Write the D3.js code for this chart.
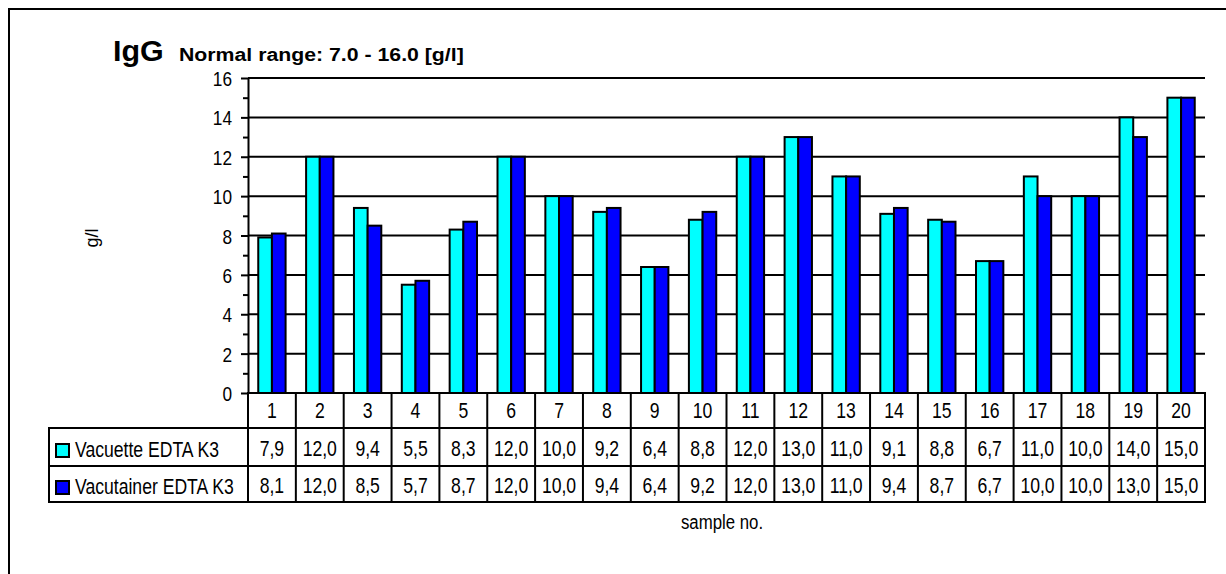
<!DOCTYPE html>
<html>
<head>
<meta charset="utf-8">
<script src="https://cdn.jsdelivr.net/npm/d3@7/dist/d3.min.js"></script>
<style>
  html, body { margin: 0; padding: 0; background: #fff; }
  svg { display: block; }
  text { font-family: 'Liberation Sans', Arial, sans-serif; fill: #000; }
</style>
</head>
<body>
<svg id="chart" width="1226" height="574"></svg>
<script>
// ---- data ----
const categories = ["1","2","3","4","5","6","7","8","9","10","11","12","13","14","15","16","17","18","19","20"];
const seriesNames = ["Vacuette EDTA K3", "Vacutainer EDTA K3"];
const vacuette   = [7.9, 12.0, 9.4, 5.5, 8.3, 12.0, 10.0, 9.2, 6.4, 8.8, 12.0, 13.0, 11.0, 9.1, 8.8, 6.7, 11.0, 10.0, 14.0, 15.0];
const vacutainer = [8.1, 12.0, 8.5, 5.7, 8.7, 12.0, 10.0, 9.4, 6.4, 9.2, 12.0, 13.0, 11.0, 9.4, 8.7, 6.7, 10.0, 10.0, 13.0, 15.0];
const seriesColors = ["#00FFFF", "#0000FF"];
const majorTicks = [0, 2, 4, 6, 8, 10, 12, 14, 16];
const minorTicks = [1, 3, 5, 7, 9, 11, 13, 15];
const titleMain = "IgG";
const titleSub = "Normal range: 7.0 - 16.0 [g/l]";
const yAxisTitle = "g/l";
const xAxisTitle = "sample no.";

// ---- layout ----
const svg = d3.select("#chart");
const plot = { left: 248, right: 1205, top: 78, bottom: 393 };
const table = { left: 49, rowTops: [393, 428, 466, 502] };
const SX = 0.8;

const y = d3.scaleLinear().domain([0, 16]).range([plot.bottom, plot.top]);
const x = d3.scaleBand().domain(categories).range([plot.left, plot.right]).paddingInner(0).paddingOuter(0);
const x1 = d3.scaleBand().domain([0, 1]).range([0, x.bandwidth()]).paddingInner(0).paddingOuter(0.75);

const fmt = v => d3.format(".1f")(v).replace(".", ",");

function txt(parent, tx, ty, str, opts) {
  const o = Object.assign({ size: 22, weight: "normal", anchor: "start", sx: SX, rot: 0 }, opts || {});
  const g = parent.append("g").attr("transform", `translate(${tx},${ty}) rotate(${o.rot}) scale(${o.sx},1)`);
  g.append("text")
    .attr("font-size", o.size)
    .attr("font-weight", o.weight)
    .attr("text-anchor", o.anchor)
    .text(str);
  return g;
}

// outer frame (top and left only visible)
svg.append("path")
  .attr("d", `M9,${574 + 5} V9 H${1226 + 5}`)
  .attr("fill", "none").attr("stroke", "#000").attr("stroke-width", 2);

// titles
txt(svg, 113, 61, titleMain, { size: 29, weight: "bold", sx: 1.05 });
txt(svg, 179, 61, titleSub, { size: 18.5, weight: "bold", sx: 1.15 });

// gridlines
svg.append("g").selectAll("line")
  .data(majorTicks.filter(d => d > 0))
  .join("line")
  .attr("x1", plot.left).attr("x2", plot.right)
  .attr("y1", d => y(d)).attr("y2", d => y(d))
  .attr("stroke", "#000").attr("stroke-width", 2);

// bars
const all = [vacuette, vacutainer];
all.forEach((vals, si) => {
  svg.append("g").selectAll("rect")
    .data(vals)
    .join("rect")
    .attr("x", (d, i) => x(categories[i]) + x1(si))
    .attr("width", x1.bandwidth())
    .attr("y", d => y(d))
    .attr("height", d => y(0) - y(d))
    .attr("fill", seriesColors[si])
    .attr("stroke", "#000")
    .attr("stroke-width", 2);
});

// y axis (major)
const yAxis = d3.axisLeft(y).tickValues(majorTicks).tickSize(7).tickSizeOuter(0).tickPadding(9).tickFormat(d3.format("d"));
const ga = svg.append("g").attr("transform", `translate(${plot.left},0)`).call(yAxis);
ga.select(".domain").attr("stroke", "#000").attr("stroke-width", 2);
ga.selectAll(".tick line").attr("stroke", "#000").attr("stroke-width", 2);
ga.selectAll(".tick text").remove();
ga.selectAll(".tick").each(function(d) {
  txt(d3.select(this), -16, 7.5, String(d), { size: 21, anchor: "end", sx: 0.82 });
});
// minor ticks
const yMinor = d3.axisLeft(y).tickValues(minorTicks).tickSize(5).tickSizeOuter(0).tickFormat("");
const gm = svg.append("g").attr("transform", `translate(${plot.left},0)`).call(yMinor);
gm.select(".domain").remove();
gm.selectAll(".tick line").attr("stroke", "#000").attr("stroke-width", 2);

// y axis title
txt(svg, 98, 238, yAxisTitle, { size: 19, anchor: "middle", rot: -90, sx: 0.95 });

// data table
const tb = svg.append("g");
const rt = table.rowTops;
tb.append("line").attr("x1", plot.left - 1).attr("x2", plot.right + 1).attr("y1", rt[0]).attr("y2", rt[0]);
[rt[1], rt[2], rt[3]].forEach(yy => {
  tb.append("line").attr("x1", table.left - 1).attr("x2", plot.right + 1).attr("y1", yy).attr("y2", yy);
});
const bounds = categories.map(c => x(c)).concat([plot.right]);
bounds.forEach(xx => {
  tb.append("line").attr("x1", xx).attr("x2", xx).attr("y1", rt[0]).attr("y2", rt[3]);
});
tb.append("line").attr("x1", table.left).attr("x2", table.left).attr("y1", rt[1]).attr("y2", rt[3]);
tb.selectAll("line").attr("stroke", "#000").attr("stroke-width", 2);

// header numbers
categories.forEach(c => {
  txt(tb, x(c) + x.bandwidth() / 2, 418, c, { anchor: "middle" });
});
// values
all.forEach((vals, si) => {
  const base = si === 0 ? 456 : 493;
  vals.forEach((v, i) => {
    txt(tb, x(categories[i]) + x.bandwidth() / 2, base, fmt(v), { anchor: "middle" });
  });
  const top = si === 0 ? 444 : 481;
  tb.append("rect").attr("x", 56).attr("y", top).attr("width", 13).attr("height", 13)
    .attr("fill", seriesColors[si]).attr("stroke", "#000").attr("stroke-width", 2);
  txt(tb, 75, base + 1, seriesNames[si], {});
});

// x axis title
txt(svg, 722, 529, xAxisTitle, { size: 21, anchor: "middle" });
</script>
</body>
</html>
